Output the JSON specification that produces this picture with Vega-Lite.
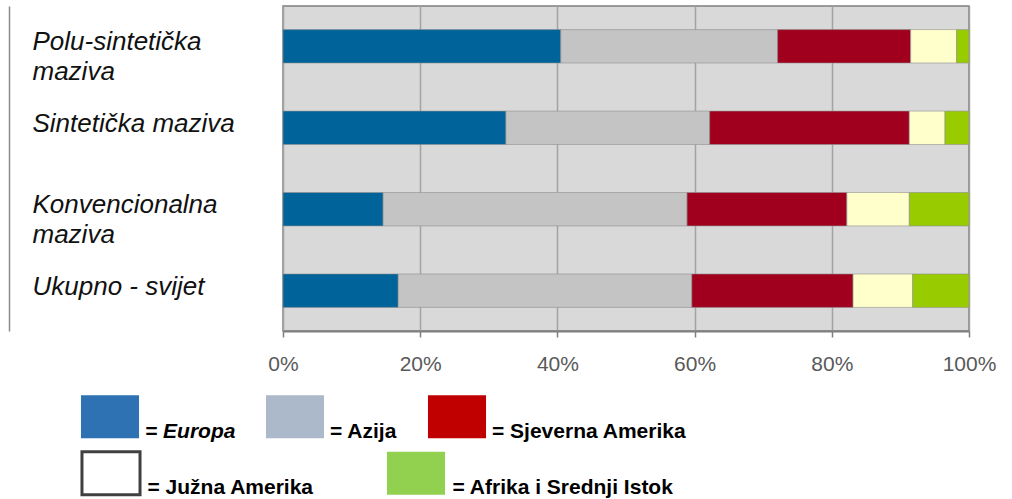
{
  "$schema": "https://vega.github.io/schema/vega-lite/v6.json",
  "width": 686,
  "height": 325,
  "autosize": {"type": "none"},
  "padding": {"left": 283, "top": 6, "right": 43, "bottom": 168},
  "background": "white",
  "config": {
    "font": "Liberation Sans",
    "view": {"fill": "#d9d9d9", "stroke": "#7f7f7f", "strokeWidth": 1.5}
  },
  "data": {
    "values": [
      {"kategorija": "Polu-sintetička\nmaziva", "regija": "Europa", "poredak": 1, "udio": 40.5},
      {"kategorija": "Polu-sintetička\nmaziva", "regija": "Azija", "poredak": 2, "udio": 31.6},
      {"kategorija": "Polu-sintetička\nmaziva", "regija": "Sjeverna Amerika", "poredak": 3, "udio": 19.4},
      {"kategorija": "Polu-sintetička\nmaziva", "regija": "Južna Amerika", "poredak": 4, "udio": 6.7},
      {"kategorija": "Polu-sintetička\nmaziva", "regija": "Afrika i Srednji Istok", "poredak": 5, "udio": 1.8},
      {"kategorija": "Sintetička maziva", "regija": "Europa", "poredak": 1, "udio": 32.5},
      {"kategorija": "Sintetička maziva", "regija": "Azija", "poredak": 2, "udio": 29.7},
      {"kategorija": "Sintetička maziva", "regija": "Sjeverna Amerika", "poredak": 3, "udio": 29.1},
      {"kategorija": "Sintetička maziva", "regija": "Južna Amerika", "poredak": 4, "udio": 5.2},
      {"kategorija": "Sintetička maziva", "regija": "Afrika i Srednji Istok", "poredak": 5, "udio": 3.5},
      {"kategorija": "Konvencionalna\nmaziva", "regija": "Europa", "poredak": 1, "udio": 14.6},
      {"kategorija": "Konvencionalna\nmaziva", "regija": "Azija", "poredak": 2, "udio": 44.3},
      {"kategorija": "Konvencionalna\nmaziva", "regija": "Sjeverna Amerika", "poredak": 3, "udio": 23.3},
      {"kategorija": "Konvencionalna\nmaziva", "regija": "Južna Amerika", "poredak": 4, "udio": 9.1},
      {"kategorija": "Konvencionalna\nmaziva", "regija": "Afrika i Srednji Istok", "poredak": 5, "udio": 8.7},
      {"kategorija": "Ukupno - svijet", "regija": "Europa", "poredak": 1, "udio": 16.8},
      {"kategorija": "Ukupno - svijet", "regija": "Azija", "poredak": 2, "udio": 42.8},
      {"kategorija": "Ukupno - svijet", "regija": "Sjeverna Amerika", "poredak": 3, "udio": 23.5},
      {"kategorija": "Ukupno - svijet", "regija": "Južna Amerika", "poredak": 4, "udio": 8.7},
      {"kategorija": "Ukupno - svijet", "regija": "Afrika i Srednji Istok", "poredak": 5, "udio": 8.2}
    ]
  },
  "encoding": {
    "x": {
      "field": "udio",
      "type": "quantitative",
      "stack": "zero",
      "scale": {"domain": [0, 100], "nice": false},
      "axis": {
        "title": null,
        "values": [0, 20, 40, 60, 80, 100],
        "labelExpr": "datum.value + '%'",
        "grid": true,
        "gridColor": "#a3a3a3",
        "gridWidth": 1.5,
        "domainColor": "#7f7f7f",
        "domainWidth": 2,
        "tickColor": "#7f7f7f",
        "tickWidth": 1.5,
        "tickSize": 6,
        "labelFont": "Liberation Sans",
        "labelFontSize": 21,
        "labelColor": "#595959",
        "labelPadding": 16,
        "labelFlush": false
      }
    },
    "y": {
      "field": "kategorija",
      "type": "nominal",
      "sort": null,
      "scale": {"paddingInner": 0.59, "paddingOuter": 0.29},
      "axis": {
        "title": null,
        "offset": 274,
        "domainColor": "#8c8c8c",
        "domainWidth": 1.5,
        "ticks": false,
        "tickSize": 0,
        "grid": false,
        "labelAlign": "left",
        "labelBaseline": "middle",
        "labelPadding": -23,
        "labelOffset": -4,
        "labelFont": "Liberation Sans",
        "labelFontStyle": "italic",
        "labelFontSize": 26,
        "labelColor": "#111111",
        "labelLineHeight": 30,
        "labelLimit": 0,
        "labelExpr": "split(datum.label, '\\n')"
      }
    },
    "order": {"field": "poredak", "type": "quantitative"}
  },
  "layer": [
    {
      "mark": {"type": "bar", "stroke": "#8f8f8f", "strokeWidth": 1, "strokeOpacity": 0.6},
      "encoding": {
        "color": {
          "field": "regija",
          "type": "nominal",
          "scale": {
            "domain": ["Europa", "Azija", "Sjeverna Amerika", "Južna Amerika", "Afrika i Srednji Istok"],
            "range": ["#00639a", "#c3c4c3", "#a0001e", "#ffffcc", "#99cc00"]
          },
          "legend": null
        }
      }
    },
    {
      "mark": {"type": "bar", "opacity": 0},
      "encoding": {
        "fill": {
          "field": "regija",
          "type": "nominal",
          "scale": {
            "domain": ["Europa", "Azija", "Sjeverna Amerika", "Južna Amerika", "Afrika i Srednji Istok"],
            "range": ["#2e72b4", "#acb9ca", "#c00000", "#ffffff", "#92d050"]
          },
          "legend": {
            "title": null,
            "values": ["Europa", "Azija", "Sjeverna Amerika"],
            "orient": "none",
            "legendX": -194.5,
            "legendY": 389,
            "direction": "horizontal",
            "columns": 3,
            "columnPadding": 30,
            "padding": 0,
            "symbolType": "M-1.35,-1H1.35V1H-1.35Z",
            "symbolSize": 1849,
            "symbolOpacity": 1,
            "symbolStrokeWidth": 0,
            "labelOffset": 13.5,
            "labelFont": "Liberation Sans",
            "labelFontWeight": "bold",
            "labelFontSize": 21,
            "labelColor": "#000000",
            "labelBaseline": "alphabetic",
            "labelLimit": 0,
            "labelExpr": "'= ' + datum.label",
            "encode": {
              "labels": {
                "update": {
                  "dy": {"value": 21},
                  "fontStyle": {"signal": "datum.value === 'Europa' ? 'italic' : 'normal'"}
                }
              }
            }
          }
        }
      }
    },
    {
      "mark": {"type": "bar", "opacity": 0},
      "encoding": {
        "fill": {
          "field": "regija",
          "type": "nominal",
          "scale": {
            "domain": ["Europa", "Azija", "Sjeverna Amerika", "Južna Amerika", "Afrika i Srednji Istok"],
            "range": ["#2e72b4", "#acb9ca", "#c00000", "#ffffff", "#92d050"]
          },
          "legend": {
            "title": null,
            "values": ["Južna Amerika", "Afrika i Srednji Istok"],
            "orient": "none",
            "legendX": -195,
            "legendY": 444,
            "direction": "horizontal",
            "columns": 2,
            "columnPadding": 66,
            "padding": 0,
            "symbolType": "M-1.35,-1H1.35V1H-1.35Z",
            "symbolSize": 1849,
            "symbolOpacity": 1,
            "labelOffset": 13.5,
            "labelFont": "Liberation Sans",
            "labelFontWeight": "bold",
            "labelFontSize": 21,
            "labelColor": "#000000",
            "labelBaseline": "alphabetic",
            "labelLimit": 0,
            "labelExpr": "'= ' + datum.label",
            "encode": {
              "labels": {"update": {"dy": {"value": 21}}},
              "symbols": {
                "update": {
                  "stroke": {"signal": "datum.value === 'Južna Amerika' ? '#404040' : 'transparent'"},
                  "strokeWidth": {"value": 3}
                }
              }
            }
          }
        }
      }
    }
  ],
  "resolve": {"scale": {"fill": "independent"}, "legend": {"fill": "independent"}}
}
